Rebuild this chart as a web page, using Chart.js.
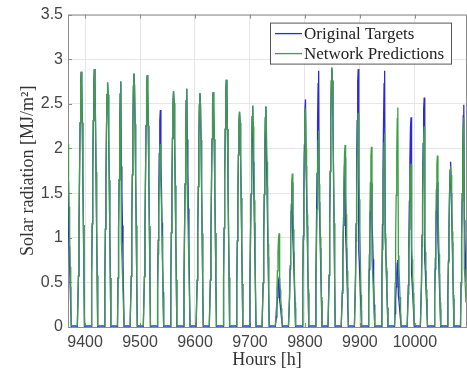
<!DOCTYPE html>
<html>
<head>
<meta charset="utf-8">
<script src="https://cdn.jsdelivr.net/npm/chart.js@4.4.1/dist/chart.umd.min.js"></script>
<style>
  html, body { margin: 0; padding: 0; background: #fff; }
  #wrap { width: 467px; height: 369px; }
</style>
</head>
<body>
<div id="wrap"><canvas id="chart" width="467" height="369"></canvas></div>
<script>
// hour of each daily peak (first one sits on the left edge)
const peakHours = [9369, 9393, 9417, 9441, 9465, 9489, 9513, 9537, 9561, 9585, 9609,
    9633, 9657, 9681, 9705, 9729, 9753, 9777, 9801, 9825, 9849,
    9873, 9897, 9921, 9945, 9969, 9993, 10017, 10041, 10065, 10089];
const targetPeaks = [1.63, 2.86, 2.89, 2.74, 2.75, 2.84, 2.82, 2.43, 2.64, 2.67, 2.62,
    2.63, 2.77, 2.41, 2.48, 2.47, 0.55, 1.62, 2.55, 2.87, 2.90,
    1.90, 2.89, 1.61, 2.87, 0.75, 2.35, 2.57, 1.62, 1.85, 2.49];
const predPeaks = [2.05, 2.86, 2.89, 2.74, 2.75, 2.84, 2.82, 2.05, 2.64, 2.67, 2.62,
    2.63, 2.77, 2.41, 2.48, 2.47, 1.05, 1.72, 2.45, 2.20, 2.91,
    2.04, 2.40, 2.02, 2.17, 2.46, 1.83, 2.25, 1.92, 1.80, 2.35];
// afternoon level one hour after the peak on cloudy days (null = clear day)
const targetDips = [1.07, null, null, null, 1.80, null, null, 1.85, null, 2.10, null,
    null, null, null, 1.85, 1.87, 0.30, 1.00, 1.80, 1.40, null,
    1.05, 0.85, 1.20, 1.00, 0.35, 0.60, 0.75, 0.95, 1.50, 1.20];
const predDips = [1.60, null, null, null, 0.95, null, null, 1.60, null, 1.50, null,
    null, null, null, 2.25, 2.20, 0.50, 1.30, 2.00, 1.60, null,
    1.50, 1.70, 0.75, 1.05, 0.80, 0.90, 1.00, 1.30, 1.70, 0.65];
// fraction of the daily peak for hours -6 .. +6 around it
const dayShape = [0, 0.2, 0.4, 0.6, 0.8, 0.95, 1, 0.95, 0.8, 0.6, 0.4, 0.2, 0];
// small night offset of the network output
const predNight = 0.015;

const xTicks = [9400, 9500, 9600, 9700, 9800, 9900, 10000];
const yTicks = [0, 0.5, 1, 1.5, 2, 2.5, 3, 3.5];

const firstHour = 9357, lastHour = 10100;

function buildSeries(peaks, dips, night) {
    const pts = [];
    for (let h = firstHour; h <= lastHour; h++) pts.push({ x: h, y: night });
    const half = (dayShape.length - 1) / 2;
    peakHours.forEach((ph, i) => {
        for (let k = -half; k <= half; k++) {
            const idx = ph + k - firstHour;
            if (idx < 0 || idx >= pts.length) continue;
            let v = peaks[i] * dayShape[k + half];
            // cloud after the peak: afternoon follows the lower level
            if (k >= 1 && dips[i] !== null) v = dips[i] * dayShape[k + half] / dayShape[half + 1];
            pts[idx].y = Math.max(v, night);
        }
    });
    return pts;
}

// box + inward ticks like the matlab axes
const framePlugin = {
    id: 'frame',
    beforeDatasetsDraw(chart) {
        const { ctx, chartArea: a, scales } = chart;
        ctx.save();
        ctx.strokeStyle = '#8c8c8c';
        ctx.lineWidth = 1;
        ctx.strokeRect(a.left + 0.5, a.top + 0.5, a.right - a.left, a.bottom - a.top);
        ctx.beginPath();
        xTicks.forEach(v => {
            const x = Math.round(scales.x.getPixelForValue(v)) + 0.5;
            ctx.moveTo(x, a.bottom); ctx.lineTo(x, a.bottom - 4);
            ctx.moveTo(x, a.top); ctx.lineTo(x, a.top + 4);
        });
        yTicks.forEach(v => {
            const y = Math.round(scales.y.getPixelForValue(v)) + 0.5;
            ctx.moveTo(a.left, y); ctx.lineTo(a.left + 4, y);
        });
        ctx.stroke();
        ctx.restore();
    }
};

const legendPlugin = {
    id: 'boxLegend',
    afterDatasetsDraw(chart) {
        const { ctx, chartArea: a } = chart;
        const bx = a.right - 196, by = a.top + 8, bw = 181, bh = 41;
        ctx.save();
        ctx.fillStyle = '#fff';
        ctx.fillRect(bx, by, bw, bh);
        ctx.strokeStyle = '#555';
        ctx.lineWidth = 1;
        ctx.strokeRect(bx + 0.5, by + 0.5, bw, bh);
        ctx.font = '17px "Liberation Serif"';
        ctx.textBaseline = 'middle';
        chart.data.datasets.forEach((ds, i) => {
            const y = by + 11 + i * 20;
            ctx.strokeStyle = ds.borderColor;
            ctx.lineWidth = 1.3;
            ctx.beginPath();
            ctx.moveTo(bx + 5, y); ctx.lineTo(bx + 32, y);
            ctx.stroke();
            ctx.fillStyle = '#222';
            ctx.fillText(ds.label, bx + 34, y + 1);
        });
        ctx.restore();
    }
};

const ctx = document.getElementById('chart').getContext('2d');
new Chart(ctx, {
    type: 'line',
    data: {
        datasets: [
            { label: 'Original Targets', data: buildSeries(targetPeaks, targetDips, 0), borderColor: '#2a2ad8', borderWidth: 1.3, pointRadius: 0, tension: 0, order: 2 },
            { label: 'Network Predictions', data: buildSeries(predPeaks, predDips, predNight), borderColor: '#3f9f45', borderWidth: 1.3, pointRadius: 0, tension: 0, order: 1 }
        ]
    },
    options: {
        responsive: false,
        animation: false,
        layout: { padding: { top: 14, right: 1, left: 0, bottom: 0 } },
        plugins: { legend: { display: false }, tooltip: { enabled: false } },
        scales: {
            x: {
                type: 'linear', min: 9369, max: 10093,
                afterBuildTicks: s => { s.ticks = xTicks.map(v => ({ value: v })); },
                afterFit: s => { s.height = 42; },
                grid: { color: '#e6e6e6', drawTicks: false },
                border: { display: false },
                ticks: { padding: 6, color: '#444', maxRotation: 0, autoSkip: false, font: { family: 'Liberation Sans', size: 16 }, callback: v => String(v) },
                title: { display: true, text: 'Hours [h]', color: '#333', padding: 0, font: { family: 'Liberation Serif', size: 18, lineHeight: 1 } }
            },
            y: {
                min: 0, max: 3.5,
                afterBuildTicks: s => { s.ticks = yTicks.map(v => ({ value: v })); },
                afterFit: s => { s.width = 68; },
                grid: { color: '#e6e6e6', drawTicks: false },
                border: { display: false },
                ticks: { padding: 5, color: '#444', font: { family: 'Liberation Sans', size: 16 }, callback: v => String(v) },
                title: { display: true, text: 'Solar radiation [MJ/m²]', color: '#333', padding: { top: 19, bottom: 0 }, font: { family: 'Liberation Serif', size: 18, lineHeight: 1 } }
            }
        }
    },
    plugins: [framePlugin, legendPlugin]
});
</script>
</body>
</html>
